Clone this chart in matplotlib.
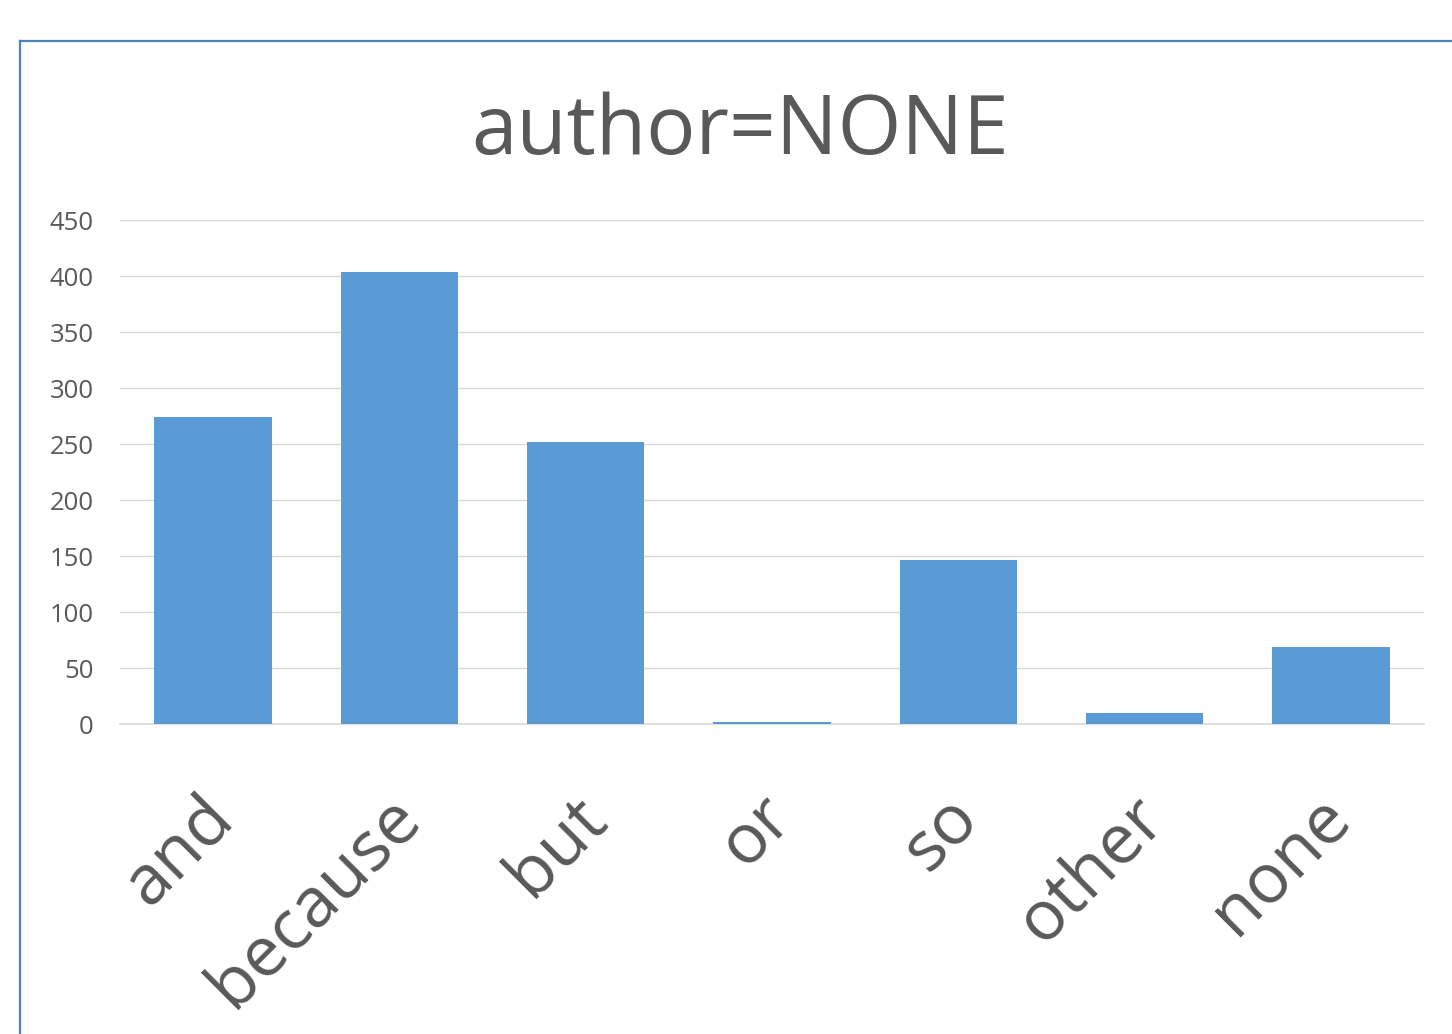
import matplotlib.pyplot as plt
from matplotlib.lines import Line2D
from matplotlib.transforms import ScaledTranslation

categories = ['and', 'because', 'but', 'or', 'so', 'other', 'none']
counts = [274, 404, 252, 2, 146, 10, 69]
y_ticks = [0, 50, 100, 150, 200, 250, 300, 350, 400, 450]

plt.rcParams['font.family'] = ['Open Sans', 'DejaVu Sans']

W, H = 1452, 1034
fig = plt.figure(figsize=(W / 100.0, H / 100.0), dpi=100)

# chart frame, partly cut off at the right and bottom
fig.add_artist(Line2D([19.5 / W, 19.5 / W], [0, 1 - 40.5 / H], color='#4f81bd', lw=1.6,
                      transform=fig.transFigure))
fig.add_artist(Line2D([19.5 / W, 1], [1 - 40.5 / H, 1 - 40.5 / H], color='#4f81bd', lw=1.6,
                      transform=fig.transFigure))

ax = fig.add_axes([120.0 / W, (H - 724.0) / H, (1424.0 - 120.0) / W, (724.0 - 220.0) / H])

x = range(len(categories))
ax.bar(x, counts, width=0.63, color='#5b9bd5', zorder=3)

ax.set_xlim(-0.5, len(categories) - 0.5)
ax.set_ylim(0, 450)
ax.set_yticks(y_ticks)
ax.yaxis.grid(True, color='#d9d9d9', lw=1.0, zorder=0)

for side in ['top', 'right', 'left']:
    ax.spines[side].set_visible(False)
ax.spines['bottom'].set_color('#d9d9d9')
ax.spines['bottom'].set_linewidth(1.2)

ax.tick_params(axis='y', length=0, pad=19, labelsize=18.5, labelcolor='#595959')
ax.tick_params(axis='x', length=0, pad=10)
ax.set_xticks(list(x))
ax.set_xticklabels(categories, rotation=45, ha='right', va='top', rotation_mode='anchor',
                   fontsize=50, color='#595959')

# push the slanted category names down and a little left
shift = ScaledTranslation(-15 / 100.0, -45 / 100.0, fig.dpi_scale_trans)
for lbl in ax.get_xticklabels():
    lbl.set_transform(lbl.get_transform() + shift)

fig.text(740.0 / W, 1 - 133.0 / H, 'author=NONE', ha='center', va='center',
         fontsize=59, color='#595959')

fig.savefig('out.png', dpi=100)
